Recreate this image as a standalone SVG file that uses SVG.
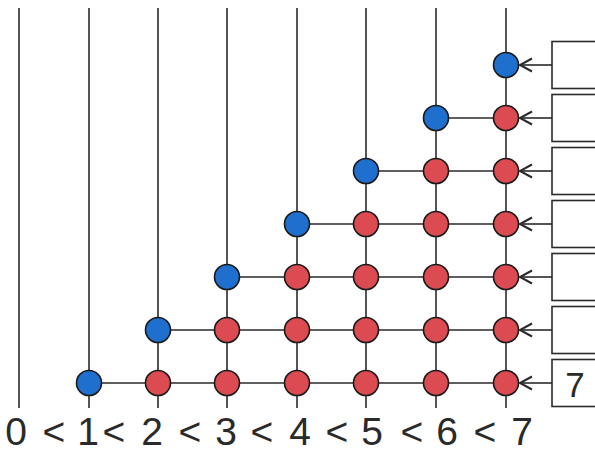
<svg xmlns="http://www.w3.org/2000/svg" width="595" height="454" viewBox="0 0 595 454">
<style>
.ln{stroke:#2a2a2a;stroke-width:1.6;fill:none}
.ar{stroke:#2a2a2a;stroke-width:1.6;fill:none;marker-end:url(#arr)}
.b{fill:#1f6fcf;stroke:#1a1a1a;stroke-width:1.6}
.r{fill:#dc4a52;stroke:#1a1a1a;stroke-width:1.6}
.box{fill:#fff;stroke:#2a2a2a;stroke-width:1.6}
.t{font-family:"Liberation Sans",Arial,sans-serif;fill:#2a2a2a;text-anchor:middle}
</style>
<defs>
<marker id="arr" markerUnits="userSpaceOnUse" markerWidth="20" markerHeight="20" refX="14" refY="8" orient="auto" viewBox="0 0 20 20">
<path d="M2,1.5 L14,8 L2,14.5" fill="none" stroke="#2a2a2a" stroke-width="2"/>
</marker>
</defs>
<rect width="595" height="454" fill="#fff"/>
<g id="connectors">
<line class="ln" x1="19" y1="8" x2="19" y2="408"/>
<line class="ln" x1="89" y1="8" x2="89" y2="408"/>
<line class="ln" x1="158" y1="8" x2="158" y2="408"/>
<line class="ln" x1="227" y1="8" x2="227" y2="408"/>
<line class="ln" x1="297" y1="8" x2="297" y2="408"/>
<line class="ln" x1="366" y1="8" x2="366" y2="408"/>
<line class="ln" x1="436" y1="8" x2="436" y2="408"/>
<line class="ln" x1="506" y1="8" x2="506" y2="408"/>
<line class="ln" x1="436" y1="118" x2="506" y2="118"/>
<line class="ln" x1="366" y1="171" x2="506" y2="171"/>
<line class="ln" x1="297" y1="224" x2="506" y2="224"/>
<line class="ln" x1="227" y1="277" x2="506" y2="277"/>
<line class="ln" x1="158" y1="330" x2="506" y2="330"/>
<line class="ln" x1="89" y1="383" x2="506" y2="383"/>
<line class="ar" x1="552" y1="65" x2="520" y2="65"/>
<line class="ar" x1="552" y1="118" x2="520" y2="118"/>
<line class="ar" x1="552" y1="171" x2="520" y2="171"/>
<line class="ar" x1="552" y1="224" x2="520" y2="224"/>
<line class="ar" x1="552" y1="277" x2="520" y2="277"/>
<line class="ar" x1="552" y1="330" x2="520" y2="330"/>
<line class="ar" x1="552" y1="383" x2="520" y2="383"/>
</g>
<g id="boxes">
<g id="box1"><rect class="box" x="552" y="41.5" width="60" height="47"/></g>
<g id="box2"><rect class="box" x="552" y="94.5" width="60" height="47"/></g>
<g id="box3"><rect class="box" x="552" y="147.5" width="60" height="47"/></g>
<g id="box4"><rect class="box" x="552" y="200.5" width="60" height="47"/></g>
<g id="box5"><rect class="box" x="552" y="253.5" width="60" height="47"/></g>
<g id="box6"><rect class="box" x="552" y="306.5" width="60" height="47"/></g>
<g id="box7"><rect class="box" x="552" y="359.5" width="60" height="47"/><text class="t" x="575" y="397" font-size="35">7</text></g>
</g>
<g id="nodes">
<g id="row1"><circle class="b" cx="506" cy="65" r="12.5"/></g>
<g id="row2"><circle class="b" cx="436" cy="118" r="12.5"/><circle class="r" cx="506" cy="118" r="12.5"/></g>
<g id="row3"><circle class="b" cx="366" cy="171" r="12.5"/><circle class="r" cx="436" cy="171" r="12.5"/><circle class="r" cx="506" cy="171" r="12.5"/></g>
<g id="row4"><circle class="b" cx="297" cy="224" r="12.5"/><circle class="r" cx="366" cy="224" r="12.5"/><circle class="r" cx="436" cy="224" r="12.5"/><circle class="r" cx="506" cy="224" r="12.5"/></g>
<g id="row5"><circle class="b" cx="227" cy="277" r="12.5"/><circle class="r" cx="297" cy="277" r="12.5"/><circle class="r" cx="366" cy="277" r="12.5"/><circle class="r" cx="436" cy="277" r="12.5"/><circle class="r" cx="506" cy="277" r="12.5"/></g>
<g id="row6"><circle class="b" cx="158" cy="330" r="12.5"/><circle class="r" cx="227" cy="330" r="12.5"/><circle class="r" cx="297" cy="330" r="12.5"/><circle class="r" cx="366" cy="330" r="12.5"/><circle class="r" cx="436" cy="330" r="12.5"/><circle class="r" cx="506" cy="330" r="12.5"/></g>
<g id="row7"><circle class="b" cx="89" cy="383" r="12.5"/><circle class="r" cx="158" cy="383" r="12.5"/><circle class="r" cx="227" cy="383" r="12.5"/><circle class="r" cx="297" cy="383" r="12.5"/><circle class="r" cx="366" cy="383" r="12.5"/><circle class="r" cx="436" cy="383" r="12.5"/><circle class="r" cx="506" cy="383" r="12.5"/></g>
</g>
<g id="axis-label">
<text class="t" font-size="39" y="445"><tspan x="16">0</tspan><tspan x="54">&lt;</tspan><tspan x="88">1</tspan><tspan x="114">&lt;</tspan><tspan x="152">2</tspan><tspan x="190">&lt;</tspan><tspan x="226">3</tspan><tspan x="262">&lt;</tspan><tspan x="300">4</tspan><tspan x="337">&lt;</tspan><tspan x="372">5</tspan><tspan x="412">&lt;</tspan><tspan x="447">6</tspan><tspan x="485">&lt;</tspan><tspan x="522">7</tspan></text>
</g>
</svg>
